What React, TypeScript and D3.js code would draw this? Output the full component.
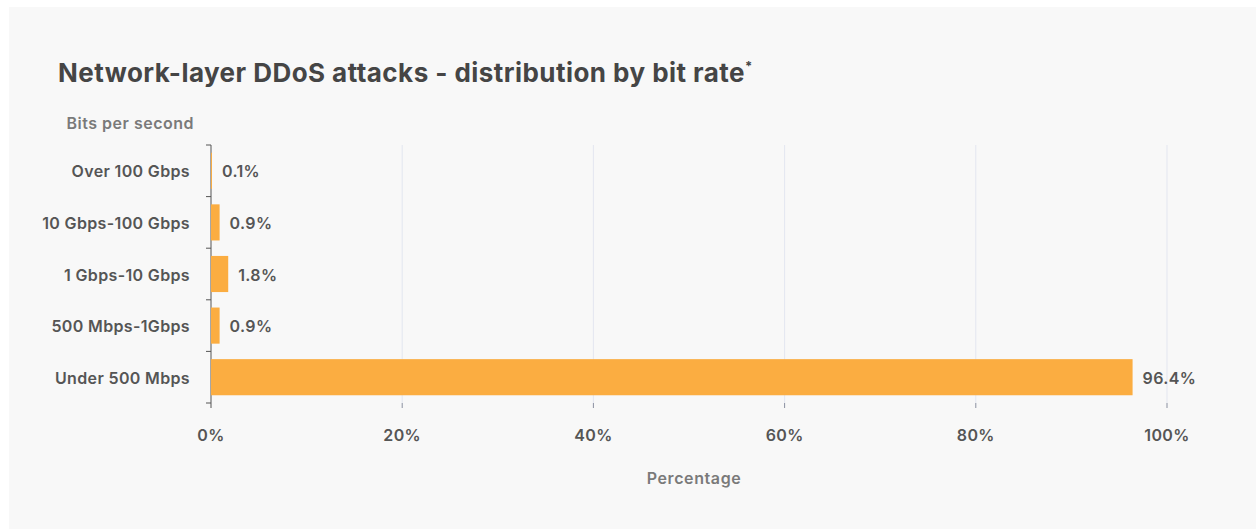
import React from "react";
import * as d3 from "d3";

const categories = ["Over 100 Gbps", "10 Gbps-100 Gbps", "1 Gbps-10 Gbps", "500 Mbps-1Gbps", "Under 500 Mbps"];
const values = [0.1, 0.9, 1.8, 0.9, 96.4];
const xTicks = [0, 20, 40, 60, 80, 100];

const W = 1256;
const H = 529;
const left = 211;
const right = 1167;
const top = 145;
const bottom = 403;

export default function App() {
  const x = d3.scaleLinear().domain([0, 100]).range([left, right]);
  const y = d3.scaleBand<string>().domain(categories).range([top, bottom]).paddingInner(0.3).paddingOuter(0.15);
  const boundaries = d3.range(categories.length + 1).map((i) => top + i * ((bottom - top) / categories.length));
  const font = "Inter, 'Noto Sans', sans-serif";
  const ls = 0.35;
  return (
    <svg width={W} height={H} style={{ position: "absolute", left: 0, top: 0, background: "#fff" }} fontFamily={font}>
      <rect x={9} y={7} width={W - 9} height={H - 7} fill="#f8f8f8" />
      <text x={58} y={82} fontSize={26} fontWeight={700} fill="#454545" letterSpacing={0.45}>
        Network-layer DDoS attacks - distribution by bit rate
        <tspan fontSize={13} dy={-11}>*</tspan>
      </text>
      <text x={194} y={129} textAnchor="end" fontSize={16} fontWeight={600} fill="#7a7a7a" letterSpacing={0.5}>Bits per second</text>
      {xTicks.map((t) => (
        <g key={t}>
          {t > 0 && <line x1={x(t)} x2={x(t)} y1={top} y2={bottom} stroke="#e3e6f0" strokeWidth={1} />}
          <line x1={x(t)} x2={x(t)} y1={bottom} y2={bottom + 5} stroke={t === 0 ? "#555" : "#8a90a0"} strokeWidth={1} />
          <text x={x(t)} y={441} textAnchor="middle" fontSize={16} fontWeight={600} fill="#555" letterSpacing={ls}>{t}%</text>
        </g>
      ))}
      <line x1={left} x2={left} y1={top} y2={bottom} stroke="#555" strokeWidth={1} />
      {boundaries.map((b, i) => (
        <line key={i} x1={left - 5} x2={left} y1={b} y2={b} stroke="#555" strokeWidth={1} />
      ))}
      {categories.map((c, i) => {
        const yc = (y(c) as number) + y.bandwidth() / 2 + 1;
        return (
          <g key={c}>
            <rect x={x(0)} y={y(c) as number} width={x(values[i]) - x(0)} height={y.bandwidth()} fill="#fbad41" />
            <text x={190} y={yc} dy="0.35em" textAnchor="end" fontSize={16} fontWeight={600} fill="#555" letterSpacing={ls}>{c}</text>
            <text x={x(values[i]) + 10} y={yc} dy="0.35em" fontSize={16} fontWeight={600} fill="#555" letterSpacing={ls}>{values[i]}%</text>
          </g>
        );
      })}
      <text x={694} y={484} textAnchor="middle" fontSize={16} fontWeight={600} fill="#7a7a7a" letterSpacing={0.6}>Percentage</text>
    </svg>
  );
}
